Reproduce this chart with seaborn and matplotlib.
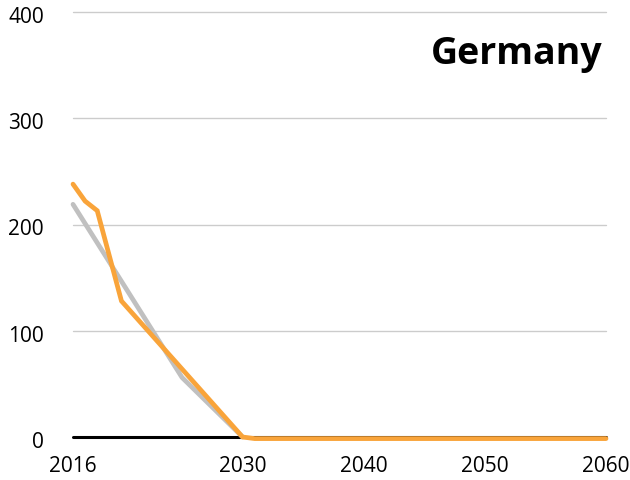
import matplotlib
matplotlib.use("Agg")
import matplotlib.pyplot as plt
import matplotlib.transforms as mtransforms
import seaborn as sns
import pandas as pd

# Data
gray_years = [2016, 2025, 2030]
gray_values = [219, 56, 0]
orange_years = [2016, 2017, 2018, 2020, 2030, 2031, 2060]
orange_values = [238, 222, 213, 128, 0, -1.5, -1.5]
x_ticks = [2016, 2030, 2040, 2050, 2060]
y_ticks = [0, 100, 200, 300, 400]
title = "Germany"

sns.set_theme(style="white")
plt.rcParams['font.family'] = ['Open Sans', 'DejaVu Sans']

df = pd.concat([
    pd.DataFrame({"year": gray_years, "value": gray_values, "series": "gray"}),
    pd.DataFrame({"year": orange_years, "value": orange_values, "series": "orange"}),
])

fig = plt.figure(figsize=(6.3, 4.81), dpi=100)
ax = fig.add_axes([73/630, 1-438/481, (606-73)/630, (438-13)/481])

for y in y_ticks[1:]:
    ax.axhline(y, color="#cccccc", lw=1.0, zorder=0, clip_on=False)
ax.axhline(0, color="black", lw=2.2, zorder=1, clip_on=False)

sns.lineplot(data=df, x="year", y="value", hue="series",
             palette={"gray": "#c0c0c0", "orange": "#f9a43a"},
             linewidth=3.4, legend=False, ax=ax, zorder=3, sort=False)
for line in ax.lines:
    line.set_clip_on(False)
    line.set_solid_joinstyle("miter")

ax.set_xlim(2016, 2060)
ax.set_ylim(0, 400)
ax.set_xticks(x_ticks)
ax.set_yticks(y_ticks)
ax.tick_params(axis="both", length=0, labelsize=15, colors="black")
ax.tick_params(axis="y", pad=21)
ax.tick_params(axis="x", pad=13)
ax.set_xlabel("")
ax.set_ylabel("")
for s in ax.spines.values():
    s.set_visible(False)
ax.grid(False)

offset = mtransforms.ScaledTranslation(0, -2/100, fig.dpi_scale_trans)
for lbl in ax.get_yticklabels():
    lbl.set_transform(lbl.get_transform() + offset)

fig.text(603/630, 1-54/481, title, ha="right", va="center",
         fontsize=27, fontweight="bold", color="black")

fig.savefig("out.png", dpi=100)
